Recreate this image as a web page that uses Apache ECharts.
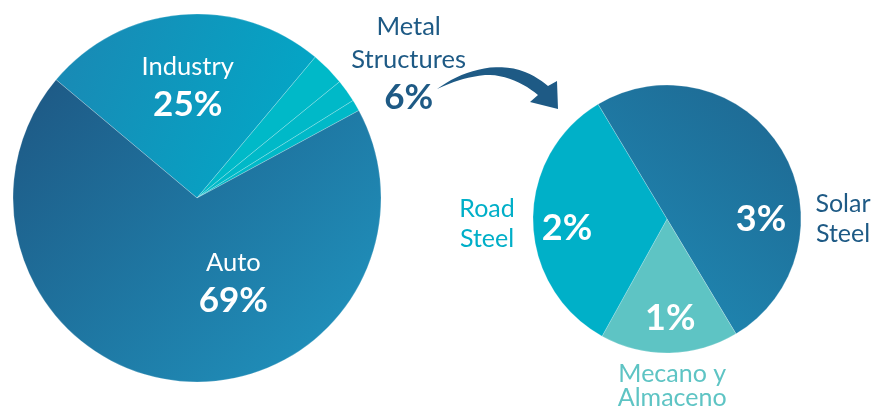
<!DOCTYPE html>
<html>
<head>
<meta charset="utf-8">
<script src="https://cdn.jsdelivr.net/npm/echarts@6/dist/echarts.min.js"></script>
<style>
html,body{margin:0;padding:0;background:#fff;}
#c{width:873px;height:409px;}
</style>
</head>
<body>
<div id="c"></div>
<script>
// ---- data ----
const mainCategories = ['Industry', 'Metal\nStructures', 'Auto'];
const mainValues = [25, 6, 69];
const metalCategories = ['Solar\nSteel', 'Mecano y\nAlmaceno', 'Road\nSteel'];
const metalValues = [3, 1, 2];

// ---- styles ----
const DARK = '#1e5a85';
const grad = (a, b, x2, y2, x1, y1) => ({type: 'linear', x: x1 || 0, y: y1 || 0, x2: x2, y2: y2, global: false,
  colorStops: [{offset: 0, color: a}, {offset: 1, color: b}]});
const mainColors = [grad('#1b87b3', '#02a8c7', 1, 0.6), '#00b9c8', grad('#1e5783', '#1f90bb', 0.8, 1)];
const metalColors = [grad('#1e6690', '#1f8db8', 0, 1, 1, 0), '#5ec4c4', '#00b0c8'];
const metalLabelColors = [DARK, '#5ec4c4', '#00afc8'];
const mainLabelColors = ['#fff', DARK, '#fff'];
const mainOffsets = [[-1, -15], [138, -73], [46, -8]];
const metalValueOffsets = [[34, 36], [2, 29], [-30, 8]];
const metalNameOffsets = [[116, 36], [4, 97], [-110, 4]];
const metalNameStyles = ['s', 't', 's'];

const FONT = 'Lato';
const LC = [197, 198], LR = 184, LSTART = 140;
const RC = [667, 219], RR = 134, RSTART = 121;
const border = {borderColor: 'rgba(255,255,255,0.35)', borderWidth: 0.6};

// Left visible pie: Industry, then metal sub-slices (3,2,1), then Auto
const metalOrderLeft = [0, 2, 1];
const leftData = [{name: mainCategories[0], value: mainValues[0], itemStyle: Object.assign({color: mainColors[0]}, border)}]
  .concat(metalOrderLeft.map(i => ({name: metalCategories[i], value: metalValues[i], itemStyle: Object.assign({color: mainColors[1]}, border)})))
  .concat([{name: mainCategories[2], value: mainValues[2], itemStyle: Object.assign({color: mainColors[2]}, border)}]);

const leftLabelData = mainCategories.map((n, i) => ({
  name: n, value: mainValues[i],
  itemStyle: {color: 'rgba(0,0,0,0)', borderWidth: 0},
  label: {color: mainLabelColors[i], offset: mainOffsets[i]}
}));

const rightData = metalCategories.map((n, i) => ({
  name: n, value: metalValues[i],
  itemStyle: Object.assign({color: metalColors[i]}, border),
  label: {offset: metalValueOffsets[i]}
}));
const rightNameData = metalCategories.map((n, i) => ({
  name: n, value: metalValues[i],
  itemStyle: {color: 'rgba(0,0,0,0)', borderWidth: 0},
  label: {color: metalLabelColors[i], offset: metalNameOffsets[i]}
}));

// decorative arrow outline (sampled cubic curves)
function cubic(p0, p1, p2, p3, n) {
  const out = [];
  for (let k = 0; k <= n; k++) {
    const t = k / n, u = 1 - t;
    out.push([u*u*u*p0[0] + 3*u*u*t*p1[0] + 3*u*t*t*p2[0] + t*t*t*p3[0],
              u*u*u*p0[1] + 3*u*u*t*p1[1] + 3*u*t*t*p2[1] + t*t*t*p3[1]]);
  }
  return out;
}
const arrowPts = [].concat(
  cubic([437, 89], [460, 72], [495, 60], [525, 72], 16),
  cubic([525, 72], [535, 76], [542, 81], [548, 86], 6),
  [[557, 81], [558, 109], [530, 102]],
  cubic([538, 95], [525, 84], [505, 74], [485, 75], 12),
  cubic([485, 75], [465, 77], [450, 83], [437, 89], 10)
);

const base = {type: 'pie', silent: true, animation: false, clockwise: true, labelLine: {show: false}, emphasis: {disabled: true}};

const option = {
  backgroundColor: '#fff',
  series: [
    Object.assign({}, base, {center: LC, radius: LR, startAngle: LSTART, data: leftData, label: {show: false}}),
    Object.assign({}, base, {center: LC, radius: LR, startAngle: LSTART, data: leftLabelData, z: 5,
      label: {show: true, position: 'inside', fontFamily: FONT, formatter: p => '{n|' + p.name.split('\n').join('}\n{n|') + '}\n{v|' + p.value + '%}',
        rich: {n: {fontSize: 25.5, lineHeight: 33, fontFamily: FONT}, v: {fontSize: 35, fontWeight: 'bold', lineHeight: 44, fontFamily: FONT}}}}),
    Object.assign({}, base, {center: RC, radius: RR, startAngle: RSTART, data: rightData,
      label: {show: true, position: 'inside', color: '#fff', fontFamily: FONT, fontSize: 36, fontWeight: 'bold', formatter: p => p.value + '%'}}),
    Object.assign({}, base, {center: RC, radius: RR, startAngle: RSTART, data: rightNameData, z: 5,
      label: {show: true, position: 'inside', fontFamily: FONT, fontSize: 25,
        formatter: p => { const s = metalNameStyles[p.dataIndex]; return '{' + s + '|' + p.name.split('\n').join('}\n{' + s + '|') + '}'; },
        rich: {s: {lineHeight: 30, fontSize: 25, fontFamily: FONT},
               t: {lineHeight: 24, fontSize: 25, fontFamily: FONT}}}})
  ],
  graphic: [{
    type: 'polygon', silent: true,
    shape: {points: arrowPts},
    style: {fill: DARK}
  }]
};
const chart = echarts.init(document.getElementById('c'), null, {renderer: 'canvas'});
chart.setOption(option);
</script>
</body>
</html>
